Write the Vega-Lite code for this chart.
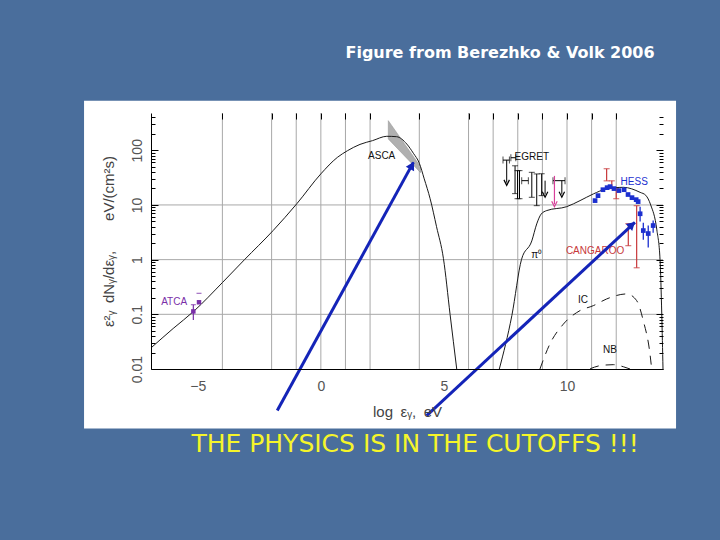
{
  "$schema": "https://vega.github.io/schema/vega-lite/v6.json",
  "width": 512,
  "height": 256,
  "autosize": "none",
  "padding": {"left": 151, "top": 113, "right": 57, "bottom": 171},
  "background": "#4a6e9c",
  "config": {"view": {"stroke": null}},
  "datasets": {
    "panel": [{"x": -9.62, "x2": 14.43, "y": 0.000813, "y2": 807}],
    "vgrid": [{"x": -4}, {"x": -2}, {"x": -1}, {"x": 0}, {"x": 1}, {"x": 2}, {"x": 4}, {"x": 6}, {"x": 7}, {"x": 8}, {"x": 9}, {"x": 10}, {"x": 11}, {"x": 12}],
    "hgrid": [{"y": 0.1}, {"y": 1}, {"y": 10}],
    "asca": [{"x": 2.74, "y": 161, "y2": 348}, {"x": 4.05, "y": 39, "y2": 50}],
    "solid": [
      {"c": "sync", "x": -6.9, "y": 0.0243}, {"c": "sync", "x": -6.0, "y": 0.055}, {"c": "sync", "x": -5.15, "y": 0.115}, {"c": "sync", "x": -4.0, "y": 0.38},
      {"c": "sync", "x": -3.1, "y": 1.0}, {"c": "sync", "x": -1.94, "y": 3.4}, {"c": "sync", "x": -0.97, "y": 10.6}, {"c": "sync", "x": 0, "y": 37},
      {"c": "sync", "x": 0.67, "y": 74}, {"c": "sync", "x": 1.08, "y": 98}, {"c": "sync", "x": 1.59, "y": 128}, {"c": "sync", "x": 2.1, "y": 150},
      {"c": "sync", "x": 2.68, "y": 180}, {"c": "sync", "x": 3.08, "y": 177}, {"c": "sync", "x": 3.49, "y": 130}, {"c": "sync", "x": 3.76, "y": 88},
      {"c": "sync", "x": 4.0, "y": 58}, {"c": "sync", "x": 4.2, "y": 30}, {"c": "sync", "x": 4.44, "y": 13}, {"c": "sync", "x": 4.7, "y": 4},
      {"c": "sync", "x": 4.98, "y": 1.05}, {"c": "sync", "x": 5.25, "y": 0.1}, {"c": "sync", "x": 5.52, "y": 0.01},
      {"c": "pi0", "x": 7.25, "y": 0.01}, {"c": "pi0", "x": 7.76, "y": 0.095}, {"c": "pi0", "x": 8.15, "y": 1.0}, {"c": "pi0", "x": 8.57, "y": 2.2},
      {"c": "pi0", "x": 8.77, "y": 4.5}, {"c": "pi0", "x": 8.95, "y": 6.8}, {"c": "pi0", "x": 9.18, "y": 7.9}, {"c": "pi0", "x": 9.99, "y": 9.3},
      {"c": "pi0", "x": 10.53, "y": 12}, {"c": "pi0", "x": 11.07, "y": 15.9}, {"c": "pi0", "x": 11.6, "y": 19.6}, {"c": "pi0", "x": 12.29, "y": 21},
      {"c": "pi0", "x": 12.97, "y": 17}, {"c": "pi0", "x": 13.2, "y": 15}, {"c": "pi0", "x": 13.4, "y": 10}, {"c": "pi0", "x": 13.65, "y": 3.5},
      {"c": "pi0", "x": 13.78, "y": 1.0}, {"c": "pi0", "x": 13.85, "y": 0.1}, {"c": "pi0", "x": 13.9, "y": 0.01}
    ],
    "dashed": [
      {"c": "IC", "x": 8.9, "y": 0.01}, {"c": "IC", "x": 9.31, "y": 0.029}, {"c": "IC", "x": 9.85, "y": 0.066}, {"c": "IC", "x": 10.53, "y": 0.117},
      {"c": "IC", "x": 11.07, "y": 0.144}, {"c": "IC", "x": 11.6, "y": 0.19}, {"c": "IC", "x": 12.43, "y": 0.236}, {"c": "IC", "x": 12.83, "y": 0.178},
      {"c": "IC", "x": 13.1, "y": 0.076}, {"c": "IC", "x": 13.37, "y": 0.019}, {"c": "IC", "x": 13.44, "y": 0.01},
      {"c": "NB", "x": 10.94, "y": 0.0101}, {"c": "NB", "x": 11.34, "y": 0.0115}, {"c": "NB", "x": 11.88, "y": 0.012}, {"c": "NB", "x": 12.29, "y": 0.011}, {"c": "NB", "x": 12.56, "y": 0.01}
    ],
    "atca_err": [{"x": -5.18, "lo": 0.079, "hi": 0.15}],
    "atca_pts": [{"x": -5.18, "y": 0.113}, {"x": -4.95, "y": 0.166}],
    "atca_caps": [{"x": -5.18, "y": 0.15}, {"x": -4.95, "y": 0.242}],
    "egret_v": [
      {"x": 7.89, "lo": 16.1, "hi": 52}, {"x": 7.99, "lo": 13.0, "hi": 42.4}, {"x": 8.07, "lo": 13.0, "hi": 42.4},
      {"x": 8.57, "lo": 13.8, "hi": 39.5}, {"x": 8.77, "lo": 9.7, "hi": 36.9}, {"x": 8.97, "lo": 14.8, "hi": 37.2}
    ],
    "egret_h": [
      {"x": 7.4, "x2": 7.66, "y": 66}, {"x": 7.72, "x2": 7.92, "y": 73}, {"x": 8.16, "x2": 8.43, "y": 27.8}, {"x": 9.43, "x2": 9.92, "y": 27.8}
    ],
    "egret_ul": [{"x": 7.55, "hi": 66, "lo": 25.6}, {"x": 9.11, "hi": 27.8, "lo": 15.5}, {"x": 9.79, "hi": 27.8, "lo": 15.5}],
    "egret_ul_pink": [{"x": 9.49, "hi": 34, "lo": 10.4}],
    "hess": [
      {"x": 11.14, "y": 12.0}, {"x": 11.26, "y": 14.8}, {"x": 11.46, "y": 19.0}, {"x": 11.63, "y": 20.7}, {"x": 11.75, "y": 21.6},
      {"x": 11.91, "y": 19.9}, {"x": 12.11, "y": 18.3}, {"x": 12.32, "y": 19.0}, {"x": 12.48, "y": 15.5}, {"x": 12.64, "y": 13.6},
      {"x": 12.81, "y": 12.5}, {"x": 12.89, "y": 11.5}, {"x": 12.97, "y": 6.9}, {"x": 13.1, "y": 3.4}, {"x": 13.3, "y": 3.0}, {"x": 13.5, "y": 4.2}
    ],
    "hess_err": [
      {"x": 12.97, "lo": 5.0, "hi": 9.3}, {"x": 13.1, "lo": 2.3, "hi": 4.7}, {"x": 13.3, "lo": 1.66, "hi": 4.2}, {"x": 13.5, "lo": 3.1, "hi": 5.2}
    ],
    "cang": [
      {"x": 11.61, "lo": 27.6, "hi": 46}, {"x": 11.82, "lo": 19.9, "hi": 27.6}, {"x": 12.0, "lo": 13.0, "hi": 19.9},
      {"x": 12.49, "lo": 1.8, "hi": 4.55}, {"x": 12.83, "lo": 0.71, "hi": 9.7}
    ],
    "labels": [
      {"text": "ASCA", "x": 2.47, "y": 80, "g": "k"},
      {"text": "EGRET", "x": 8.57, "y": 74, "g": "k"},
      {"text": "HESS", "x": 12.73, "y": 26, "g": "b"},
      {"text": "CANGAROO", "x": 11.14, "y": 1.46, "g": "r"},
      {"text": "ATCA", "x": -5.96, "y": 0.166, "g": "p"},
      {"text": "π⁰", "x": 8.77, "y": 1.23, "g": "k"},
      {"text": "IC", "x": 10.65, "y": 0.186, "g": "k"},
      {"text": "NB", "x": 11.75, "y": 0.0226, "g": "k"}
    ],
    "arrows": [
      {"id": 1, "x": -1.77, "y": 0.00174}, {"id": 1, "x": 3.76, "y": 60},
      {"id": 2, "x": 4.30, "y": 0.00141}, {"id": 2, "x": 12.76, "y": 4.8}
    ],
    "head1": [{"x": 3.7, "y": 53}],
    "head2": [{"x": 12.64, "y": 4.35}],
    "slidetitle": [{"text": "Figure from Berezhko & Volk 2006", "x": 7.28, "y": 6085}],
    "caption": [{"text": "THE PHYSICS IS IN THE CUTOFFS !!!", "x": 3.83, "y": 0.000433}]
  },
  "resolve": {"axis": {"x": "independent", "y": "independent"}},
  "layer": [
    {
      "data": {"name": "panel"},
      "mark": {"type": "rect", "color": "#ffffff", "clip": false},
      "encoding": {
        "x": {"field": "x", "type": "quantitative", "scale": {"domain": [-6.9, 13.9], "nice": false, "zero": false},
          "axis": {"values": [-5, 0, 5, 10], "ticks": false, "grid": false, "domain": true, "domainColor": "#000000", "domainWidth": 1,
            "labelColor": "#555555", "labelFont": "Liberation Sans", "labelFontSize": 14, "labelPadding": 10, "labelFlush": false,
            "title": "log\u2002εᵧ,\u2002eV", "titleFont": "Liberation Sans", "titleFontSize": 15, "titleFontWeight": "normal", "titleColor": "#444444", "titlePadding": 11, "zindex": 2}},
        "x2": {"field": "x2"},
        "y": {"field": "y", "type": "quantitative", "scale": {"type": "log", "domain": [0.01, 480], "nice": false},
          "axis": {"values": [0.01,0.02,0.03,0.04,0.05,0.06,0.07,0.08,0.09,0.1,0.2,0.3,0.4,0.5,0.6,0.7,0.8,0.9,1,2,3,4,5,6,7,8,9,10,20,30,40,50,60,70,80,90,100,200,300,400],
            "format": "~g", "labelExpr": "indexof([0.01,0.1,1,10,100], datum.value) >= 0 ? datum.label : ''",
            "labelAngle": -90, "labelOverlap": false, "labelColor": "#555555", "labelFont": "Liberation Sans", "labelFontSize": 14, "labelPadding": 14,
            "tickColor": "#000000", "tickSize": {"condition": {"test": "indexof([0.01,0.1,1,10,100], datum.value) >= 0", "value": -7}, "value": -4},
            "grid": false, "domainColor": "#000000", "domainWidth": 1,
            "title": "ε²ᵧ\u2002dNᵧ/dεᵧ,\u2003\u2003eV/(cm²s)", "titleFont": "Liberation Sans", "titleFontSize": 15, "titleFontWeight": "normal", "titleColor": "#444444", "titlePadding": 11, "zindex": 2}},
        "y2": {"field": "y2"}
      }
    },
    {
      "data": {"name": "hgrid"},
      "mark": {"type": "rule", "color": "#a8a8a8", "strokeWidth": 1},
      "encoding": {
        "y": {"field": "y", "type": "quantitative", "scale": {"type": "log", "domain": [0.01, 480], "nice": false},
          "axis": {"orient": "right", "values": [0.01,0.02,0.03,0.04,0.05,0.06,0.07,0.08,0.09,0.1,0.2,0.3,0.4,0.5,0.6,0.7,0.8,0.9,1,2,3,4,5,6,7,8,9,10,20,30,40,50,60,70,80,90,100,200,300,400],
            "labels": false, "domain": false, "grid": false, "title": null, "tickColor": "#000000",
            "tickSize": {"condition": {"test": "indexof([0.01,0.1,1,10,100], datum.value) >= 0", "value": -7}, "value": -4}, "zindex": 2}}
      }
    },
    {
      "data": {"name": "vgrid"},
      "mark": {"type": "rule", "color": "#a8a8a8", "strokeWidth": 1},
      "encoding": {
        "x": {"field": "x", "type": "quantitative", "scale": {"domain": [-6.9, 13.9], "nice": false, "zero": false},
          "axis": {"orient": "top", "values": [-4, -2, -1, 0, 1, 2, 4, 6, 7, 8, 9, 10, 11, 12], "labels": false, "domain": false, "grid": false, "title": null,
            "tickColor": "#000000", "tickSize": -6, "zindex": 2}}
      }
    },
    {
      "data": {"name": "asca"},
      "mark": {"type": "area", "color": "#b0b0b0", "stroke": "#8a8a8a", "strokeWidth": 0.5, "orient": "vertical"},
      "encoding": {
        "x": {"field": "x", "type": "quantitative", "scale": {"domain": [-6.9, 13.9], "nice": false, "zero": false}, "axis": null},
        "y": {"field": "y", "type": "quantitative", "scale": {"type": "log", "domain": [0.01, 480], "nice": false}, "axis": null},
        "y2": {"field": "y2"}
      }
    },
    {
      "data": {"name": "solid"},
      "mark": {"type": "line", "color": "#1a1a1a", "strokeWidth": 1, "interpolate": "monotone"},
      "encoding": {
        "x": {"field": "x", "type": "quantitative", "scale": {"domain": [-6.9, 13.9], "nice": false, "zero": false}, "axis": null},
        "y": {"field": "y", "type": "quantitative", "scale": {"type": "log", "domain": [0.01, 480], "nice": false}, "axis": null},
        "detail": {"field": "c"}
      }
    },
    {
      "data": {"name": "dashed"},
      "mark": {"type": "line", "color": "#1a1a1a", "strokeWidth": 1, "strokeDash": [9, 7], "interpolate": "monotone"},
      "encoding": {
        "x": {"field": "x", "type": "quantitative", "scale": {"domain": [-6.9, 13.9], "nice": false, "zero": false}, "axis": null},
        "y": {"field": "y", "type": "quantitative", "scale": {"type": "log", "domain": [0.01, 480], "nice": false}, "axis": null},
        "detail": {"field": "c"}
      }
    },
    {
      "data": {"name": "atca_err"},
      "mark": {"type": "rule", "color": "#7a2fa8", "strokeWidth": 1.2},
      "encoding": {
        "x": {"field": "x", "type": "quantitative", "scale": {"domain": [-6.9, 13.9], "nice": false, "zero": false}, "axis": null},
        "y": {"field": "lo", "type": "quantitative", "scale": {"type": "log", "domain": [0.01, 480], "nice": false}, "axis": null},
        "y2": {"field": "hi"}
      }
    },
    {
      "data": {"name": "atca_caps"},
      "mark": {"type": "tick", "orient": "horizontal", "color": "#7a2fa8", "size": 5, "thickness": 1.2},
      "encoding": {
        "x": {"field": "x", "type": "quantitative", "scale": {"domain": [-6.9, 13.9], "nice": false, "zero": false}, "axis": null},
        "y": {"field": "y", "type": "quantitative", "scale": {"type": "log", "domain": [0.01, 480], "nice": false}, "axis": null}
      }
    },
    {
      "data": {"name": "atca_pts"},
      "mark": {"type": "point", "shape": "square", "filled": true, "color": "#7a2fa8", "size": 20, "opacity": 1},
      "encoding": {
        "x": {"field": "x", "type": "quantitative", "scale": {"domain": [-6.9, 13.9], "nice": false, "zero": false}, "axis": null},
        "y": {"field": "y", "type": "quantitative", "scale": {"type": "log", "domain": [0.01, 480], "nice": false}, "axis": null}
      }
    },
    {
      "data": {"name": "egret_v"},
      "mark": {"type": "rule", "color": "#000000", "strokeWidth": 1},
      "encoding": {
        "x": {"field": "x", "type": "quantitative", "scale": {"domain": [-6.9, 13.9], "nice": false, "zero": false}, "axis": null},
        "y": {"field": "lo", "type": "quantitative", "scale": {"type": "log", "domain": [0.01, 480], "nice": false}, "axis": null},
        "y2": {"field": "hi"}
      }
    },
    {
      "data": {"name": "egret_v"},
      "transform": [{"fold": ["lo", "hi"], "as": ["k", "v"]}],
      "mark": {"type": "tick", "orient": "horizontal", "color": "#000000", "size": 6, "thickness": 1},
      "encoding": {
        "x": {"field": "x", "type": "quantitative", "scale": {"domain": [-6.9, 13.9], "nice": false, "zero": false}, "axis": null},
        "y": {"field": "v", "type": "quantitative", "scale": {"type": "log", "domain": [0.01, 480], "nice": false}, "axis": null}
      }
    },
    {
      "data": {"name": "egret_h"},
      "mark": {"type": "rule", "color": "#000000", "strokeWidth": 1},
      "encoding": {
        "x": {"field": "x", "type": "quantitative", "scale": {"domain": [-6.9, 13.9], "nice": false, "zero": false}, "axis": null},
        "x2": {"field": "x2"},
        "y": {"field": "y", "type": "quantitative", "scale": {"type": "log", "domain": [0.01, 480], "nice": false}, "axis": null}
      }
    },
    {
      "data": {"name": "egret_h"},
      "transform": [{"fold": ["x", "x2"], "as": ["k", "v"]}],
      "mark": {"type": "tick", "orient": "vertical", "color": "#000000", "size": 7, "thickness": 1},
      "encoding": {
        "x": {"field": "v", "type": "quantitative", "scale": {"domain": [-6.9, 13.9], "nice": false, "zero": false}, "axis": null},
        "y": {"field": "y", "type": "quantitative", "scale": {"type": "log", "domain": [0.01, 480], "nice": false}, "axis": null}
      }
    },
    {
      "data": {"name": "egret_ul"},
      "mark": {"type": "rule", "color": "#000000", "strokeWidth": 1},
      "encoding": {
        "x": {"field": "x", "type": "quantitative", "scale": {"domain": [-6.9, 13.9], "nice": false, "zero": false}, "axis": null},
        "y": {"field": "lo", "type": "quantitative", "scale": {"type": "log", "domain": [0.01, 480], "nice": false}, "axis": null},
        "y2": {"field": "hi"}
      }
    },
    {
      "data": {"name": "egret_ul"},
      "mark": {"type": "point", "shape": "M-1,-1L0,1L1,-1", "filled": false, "color": "#000000", "strokeWidth": 1.2, "size": 30, "opacity": 1},
      "encoding": {
        "x": {"field": "x", "type": "quantitative", "scale": {"domain": [-6.9, 13.9], "nice": false, "zero": false}, "axis": null},
        "y": {"field": "lo", "type": "quantitative", "scale": {"type": "log", "domain": [0.01, 480], "nice": false}, "axis": null}
      }
    },
    {
      "data": {"name": "egret_ul_pink"},
      "mark": {"type": "rule", "color": "#d8409a", "strokeWidth": 1.2},
      "encoding": {
        "x": {"field": "x", "type": "quantitative", "scale": {"domain": [-6.9, 13.9], "nice": false, "zero": false}, "axis": null},
        "y": {"field": "lo", "type": "quantitative", "scale": {"type": "log", "domain": [0.01, 480], "nice": false}, "axis": null},
        "y2": {"field": "hi"}
      }
    },
    {
      "data": {"name": "egret_ul_pink"},
      "mark": {"type": "point", "shape": "M-1,-1L0,1L1,-1", "filled": false, "color": "#d8409a", "strokeWidth": 1.2, "size": 30, "opacity": 1},
      "encoding": {
        "x": {"field": "x", "type": "quantitative", "scale": {"domain": [-6.9, 13.9], "nice": false, "zero": false}, "axis": null},
        "y": {"field": "lo", "type": "quantitative", "scale": {"type": "log", "domain": [0.01, 480], "nice": false}, "axis": null}
      }
    },
    {
      "data": {"name": "cang"},
      "mark": {"type": "rule", "color": "#c8383a", "strokeWidth": 1.2},
      "encoding": {
        "x": {"field": "x", "type": "quantitative", "scale": {"domain": [-6.9, 13.9], "nice": false, "zero": false}, "axis": null},
        "y": {"field": "lo", "type": "quantitative", "scale": {"type": "log", "domain": [0.01, 480], "nice": false}, "axis": null},
        "y2": {"field": "hi"}
      }
    },
    {
      "data": {"name": "cang"},
      "transform": [{"fold": ["lo", "hi"], "as": ["k", "v"]}],
      "mark": {"type": "tick", "orient": "horizontal", "color": "#c8383a", "size": 6, "thickness": 1.2},
      "encoding": {
        "x": {"field": "x", "type": "quantitative", "scale": {"domain": [-6.9, 13.9], "nice": false, "zero": false}, "axis": null},
        "y": {"field": "v", "type": "quantitative", "scale": {"type": "log", "domain": [0.01, 480], "nice": false}, "axis": null}
      }
    },
    {
      "data": {"name": "hess_err"},
      "mark": {"type": "rule", "color": "#1c2fcf", "strokeWidth": 1.3},
      "encoding": {
        "x": {"field": "x", "type": "quantitative", "scale": {"domain": [-6.9, 13.9], "nice": false, "zero": false}, "axis": null},
        "y": {"field": "lo", "type": "quantitative", "scale": {"type": "log", "domain": [0.01, 480], "nice": false}, "axis": null},
        "y2": {"field": "hi"}
      }
    },
    {
      "data": {"name": "hess"},
      "mark": {"type": "point", "shape": "square", "filled": true, "color": "#1c2fcf", "size": 22, "opacity": 1},
      "encoding": {
        "x": {"field": "x", "type": "quantitative", "scale": {"domain": [-6.9, 13.9], "nice": false, "zero": false}, "axis": null},
        "y": {"field": "y", "type": "quantitative", "scale": {"type": "log", "domain": [0.01, 480], "nice": false}, "axis": null}
      }
    },
    {
      "data": {"name": "labels"},
      "mark": {"type": "text", "font": "Liberation Sans", "fontSize": 10, "align": "center", "baseline": "middle"},
      "encoding": {
        "x": {"field": "x", "type": "quantitative", "scale": {"domain": [-6.9, 13.9], "nice": false, "zero": false}, "axis": null},
        "y": {"field": "y", "type": "quantitative", "scale": {"type": "log", "domain": [0.01, 480], "nice": false}, "axis": null},
        "text": {"field": "text"},
        "color": {"field": "g", "type": "nominal", "scale": {"domain": ["k", "b", "r", "p"], "range": ["#111111", "#1c2fcf", "#c8383a", "#7a2fa8"]}, "legend": null}
      }
    },
    {
      "data": {"name": "arrows"},
      "mark": {"type": "line", "color": "#1424b8", "strokeWidth": 3, "clip": false},
      "encoding": {
        "x": {"field": "x", "type": "quantitative", "scale": {"domain": [-6.9, 13.9], "nice": false, "zero": false}, "axis": null},
        "y": {"field": "y", "type": "quantitative", "scale": {"type": "log", "domain": [0.01, 480], "nice": false}, "axis": null},
        "detail": {"field": "id"}
      }
    },
    {
      "data": {"name": "head1"},
      "mark": {"type": "point", "shape": "triangle-up", "filled": true, "color": "#1424b8", "size": 90, "angle": 29, "opacity": 1},
      "encoding": {
        "x": {"field": "x", "type": "quantitative", "scale": {"domain": [-6.9, 13.9], "nice": false, "zero": false}, "axis": null},
        "y": {"field": "y", "type": "quantitative", "scale": {"type": "log", "domain": [0.01, 480], "nice": false}, "axis": null}
      }
    },
    {
      "data": {"name": "head2"},
      "mark": {"type": "point", "shape": "triangle-up", "filled": true, "color": "#1424b8", "size": 90, "angle": 47, "opacity": 1},
      "encoding": {
        "x": {"field": "x", "type": "quantitative", "scale": {"domain": [-6.9, 13.9], "nice": false, "zero": false}, "axis": null},
        "y": {"field": "y", "type": "quantitative", "scale": {"type": "log", "domain": [0.01, 480], "nice": false}, "axis": null}
      }
    },
    {
      "data": {"name": "slidetitle"},
      "mark": {"type": "text", "font": "DejaVu Sans", "fontSize": 16, "fontWeight": "bold", "color": "#ffffff", "align": "center", "baseline": "middle", "clip": false},
      "encoding": {
        "x": {"field": "x", "type": "quantitative", "scale": {"domain": [-6.9, 13.9], "nice": false, "zero": false}, "axis": null},
        "y": {"field": "y", "type": "quantitative", "scale": {"type": "log", "domain": [0.01, 480], "nice": false}, "axis": null},
        "text": {"field": "text"}
      }
    },
    {
      "data": {"name": "caption"},
      "mark": {"type": "text", "font": "DejaVu Sans", "fontSize": 25, "color": "#f5f52a", "align": "center", "baseline": "middle", "clip": false},
      "encoding": {
        "x": {"field": "x", "type": "quantitative", "scale": {"domain": [-6.9, 13.9], "nice": false, "zero": false}, "axis": null},
        "y": {"field": "y", "type": "quantitative", "scale": {"type": "log", "domain": [0.01, 480], "nice": false}, "axis": null},
        "text": {"field": "text"}
      }
    }
  ]
}
